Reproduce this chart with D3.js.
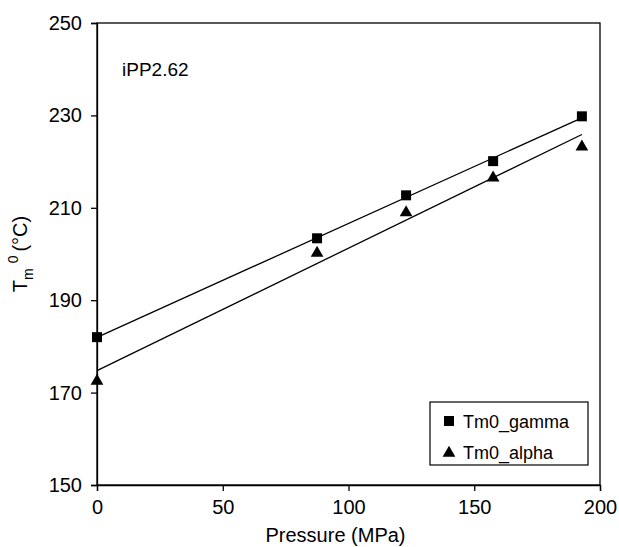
<!DOCTYPE html>
<html><head><meta charset="utf-8">
<script src="https://cdn.jsdelivr.net/npm/d3@7"></script>
<style>
body{margin:0;background:#fff;}
text{font-family:"Liberation Sans",Arial,Helvetica,sans-serif;fill:#000;}
</style></head>
<body>
<svg id="c" width="619" height="547"></svg>
<script>
const pressure = [0, 87.5, 122.9, 157.5, 192.8];
const tmGamma = [182.0, 203.4, 212.7, 220.1, 229.8];
const tmAlpha = [172.7, 200.4, 209.2, 216.7, 223.4];
const xTicks = [0, 50, 100, 150, 200];
const yTicks = [150, 170, 190, 210, 230, 250];
const seriesNames = ["Tm0_gamma", "Tm0_alpha"];

const svg = d3.select("#c");
const L = 97, R = 600, T = 23, B = 485;
const x = d3.scaleLinear().domain([0, 200]).range([L, R]);
const y = d3.scaleLinear().domain([150, 250]).range([B, T]);

// frame
svg.append("rect").attr("x", L).attr("y", T).attr("width", R - L).attr("height", B - T)
  .attr("fill", "none").attr("stroke", "#000").attr("stroke-width", 1.3);

const xa = svg.append("g").attr("transform", `translate(0,${B})`)
  .call(d3.axisBottom(x).tickValues(xTicks).tickSize(6).tickPadding(9).tickFormat(d3.format("d")));
const ya = svg.append("g").attr("transform", `translate(${L},0)`)
  .call(d3.axisLeft(y).tickValues(yTicks).tickSize(6).tickPadding(9).tickFormat(d3.format("d")));
[xa, ya].forEach(a => {
  a.select(".domain").attr("stroke", "#000").attr("stroke-width", 1.3);
  a.selectAll(".tick line").attr("stroke", "#000").attr("stroke-width", 1.3);
  a.selectAll("text").attr("font-size", 20).attr("font-family", "Liberation Sans, Arial, sans-serif");
});

// trendlines (least squares fit of each series)
function fit(xs, ys) {
  const mx = d3.mean(xs), my = d3.mean(ys);
  let sxy = 0, sxx = 0;
  xs.forEach((v, i) => { sxy += (v - mx) * (ys[i] - my); sxx += (v - mx) ** 2; });
  const m = sxy / sxx; return { m, b: my - m * mx };
}
[tmGamma, tmAlpha].forEach(s => {
  const f = fit(pressure, s);
  const x0 = d3.min(pressure), x1 = d3.max(pressure);
  svg.append("line").attr("x1", x(x0)).attr("y1", y(f.b + f.m * x0))
    .attr("x2", x(x1)).attr("y2", y(f.b + f.m * x1))
    .attr("stroke", "#000").attr("stroke-width", 1.3);
});

const sq = d3.symbol().type(d3.symbolSquare).size(100);
const tri = d3.symbol().type(d3.symbolTriangle).size(70);
svg.selectAll(".g").data(pressure).join("path")
  .attr("d", sq).attr("transform", (d, i) => `translate(${x(d)},${y(tmGamma[i])})`).attr("fill", "#000");
svg.selectAll(".a").data(pressure).join("path")
  .attr("d", tri).attr("transform", (d, i) => `translate(${x(d)},${y(tmAlpha[i]) + 1})`).attr("fill", "#000");

// annotation
svg.append("text").attr("x", 122).attr("y", 76).attr("font-size", 19).text("iPP2.62");

// legend
svg.append("rect").attr("x", 430).attr("y", 402).attr("width", 158).attr("height", 63)
  .attr("fill", "#fff").attr("stroke", "#000").attr("stroke-width", 1.2);
const lg = [[sq, 421], [tri, 452]];
lg.forEach((l, i) => {
  svg.append("path").attr("d", l[0]).attr("transform", `translate(449,${l[1] + (i ? 1 : 0)})`).attr("fill", "#000");
  svg.append("text").attr("x", 463).attr("y", l[1] + 6.5).attr("font-size", 18).text(seriesNames[i]);
});

// axis titles
svg.append("text").attr("x", (L + R) / 2 - 13).attr("y", 542).attr("text-anchor", "middle")
  .attr("font-size", 20).text("Pressure (MPa)");
const yt = svg.append("text").attr("transform", "translate(27,254) rotate(-90)")
  .attr("text-anchor", "middle").attr("font-size", 20);
yt.append("tspan").text("T");
yt.append("tspan").attr("font-size", 14).attr("dy", 6).text("m");
yt.append("tspan").attr("font-size", 14).attr("dy", -15).attr("dx", 5).text("0");
yt.append("tspan").attr("dy", 9).attr("dx", 4).text("(°C)");
</script>
</body></html>
